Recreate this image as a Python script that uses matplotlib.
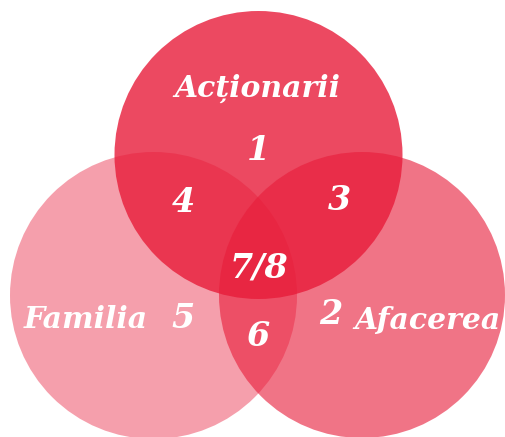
import matplotlib
matplotlib.use('Agg')
import matplotlib.pyplot as plt
from matplotlib.patches import Circle

# data
set_names = ['Acționarii', 'Familia', 'Afacerea']
region_labels = ['1', '2', '3', '4', '5', '6', '7/8']

# layout (pixel coords, y down)
circle_xy = [(258.5, 155), (153.5, 295.5), (362, 295)]
circle_r = [144, 143.5, 143]
circle_alpha = [0.80, 0.42, 0.61]
base_red = '#E81C3A'

name_xy = [(257, 88), (86, 319), (427, 320)]
region_xy = {'1': (258, 150), '2': (331, 315), '3': (339, 201),
             '4': (183, 202), '5': (183, 318), '6': (258, 336),
             '7/8': (259, 268)}

fig = plt.figure(figsize=(5.05, 4.37), dpi=100)
ax = fig.add_axes([0, 0, 1, 1])
ax.set_xlim(0, 505)
ax.set_ylim(437, 0)
ax.set_aspect('equal')
ax.axis('off')

for (cx, cy), r, a in zip(circle_xy, circle_r, circle_alpha):
    ax.add_patch(Circle((cx, cy), r, facecolor=base_red, alpha=a, lw=0))

font = dict(family='DejaVu Serif', weight='bold', style='italic', color='white',
            ha='center', va='center')

for name, (x, y) in zip(set_names, name_xy):
    ax.text(x, y, name, fontsize=21.5, **font)

for lab in region_labels:
    x, y = region_xy[lab]
    ax.text(x, y, lab, fontsize=24, **font)

fig.savefig('out.png', dpi=100)
